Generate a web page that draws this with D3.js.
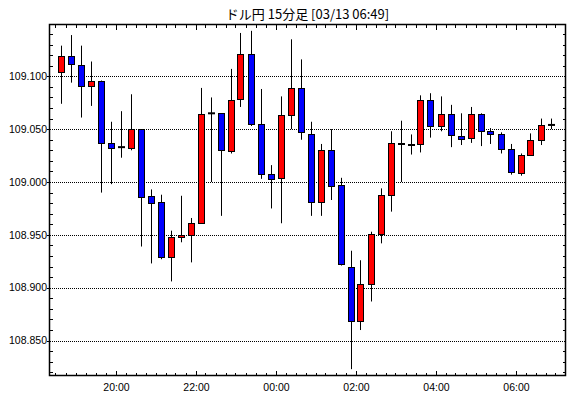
<!DOCTYPE html>
<html>
<head>
<meta charset="utf-8">
<script src="https://cdn.jsdelivr.net/npm/d3@7"></script>
<style>
  body { margin: 0; background: #fff; }
  svg text { font-family: "Liberation Sans", Arial, sans-serif; }
</style>
</head>
<body>
<div id="chart"></div>
<script>
// 15-minute candles, 03/12 18:30 -> 03/13 06:45
const times = [
  "03-12 18:30", "03-12 18:45", "03-12 19:00", "03-12 19:15", "03-12 19:30", "03-12 19:45",
  "03-12 20:00", "03-12 20:15", "03-12 20:30", "03-12 20:45", "03-12 21:00", "03-12 21:15",
  "03-12 21:30", "03-12 21:45", "03-12 22:00", "03-12 22:15", "03-12 22:30", "03-12 22:45",
  "03-12 23:00", "03-12 23:15", "03-12 23:30", "03-12 23:45", "03-13 00:00", "03-13 00:15",
  "03-13 00:30", "03-13 00:45", "03-13 01:00", "03-13 01:15", "03-13 01:30", "03-13 01:45",
  "03-13 02:00", "03-13 02:15", "03-13 02:30", "03-13 02:45", "03-13 03:00", "03-13 03:15",
  "03-13 03:30", "03-13 03:45", "03-13 04:00", "03-13 04:15", "03-13 04:30", "03-13 04:45",
  "03-13 05:00", "03-13 05:15", "03-13 05:30", "03-13 05:45", "03-13 06:00", "03-13 06:15",
  "03-13 06:30", "03-13 06:45"
];
const opens = [
  109.104, 109.119, 109.111, 109.091, 109.096, 109.037, 109.033, 109.032, 109.050, 108.987,
  108.981, 108.929, 108.948, 108.950, 108.961, 109.065, 109.065, 109.030, 109.078, 109.121,
  109.055, 109.008, 109.003, 109.063, 109.089, 109.045, 108.981, 109.030, 108.997, 108.920,
  108.869, 108.904, 108.951, 108.988, 109.037, 109.035, 109.036, 109.078, 109.053, 109.064,
  109.044, 109.041, 109.064, 109.048, 109.045, 109.031, 109.009, 109.026, 109.040, 109.054
];
const highs = [
  109.129, 109.139, 109.129, 109.114, 109.096, 109.057, 109.067, 109.083, 109.050, 108.993,
  108.988, 108.954, 108.987, 108.966, 109.089, 109.080, 109.065, 109.107, 109.141, 109.143,
  109.088, 109.016, 109.081, 109.135, 109.116, 109.057, 109.036, 109.050, 109.004, 108.935,
  108.926, 108.953, 108.994, 109.048, 109.058, 109.045, 109.082, 109.084, 109.081, 109.073,
  109.065, 109.071, 109.065, 109.051, 109.047, 109.036, 109.027, 109.046, 109.060, 109.060
];
const lows = [
  109.074, 109.094, 109.061, 109.072, 108.990, 108.998, 109.023, 109.030, 108.939, 108.923,
  108.927, 108.906, 108.943, 108.924, 108.961, 109.000, 108.968, 109.027, 109.071, 109.053,
  109.003, 108.975, 108.961, 109.050, 109.040, 108.968, 108.968, 108.983, 108.921, 108.823,
  108.860, 108.887, 108.942, 108.972, 109.000, 109.026, 109.028, 109.042, 109.048, 109.033,
  109.035, 109.037, 109.034, 109.036, 109.027, 109.007, 109.006, 109.025, 109.035, 109.050
];
const closes = [
  109.119, 109.111, 109.091, 109.096, 109.037, 109.032, 109.033, 109.050, 108.986, 108.980,
  108.929, 108.948, 108.950, 108.961, 109.064, 109.065, 109.030, 109.078, 109.121, 109.055,
  109.008, 109.003, 109.063, 109.089, 109.047, 108.981, 109.030, 108.996, 108.922, 108.869,
  108.904, 108.951, 108.988, 109.037, 109.036, 109.035, 109.078, 109.053, 109.064, 109.044,
  109.041, 109.064, 109.048, 109.045, 109.031, 109.009, 109.026, 109.040, 109.054, 109.054
];

const yTicks = [108.85, 108.90, 108.95, 109.00, 109.05, 109.10];
const xTickTimes = ["03-12 20:00", "03-12 22:00", "03-13 00:00", "03-13 02:00", "03-13 04:00", "03-13 06:00"];
const xTickLabels = ["20:00", "22:00", "00:00", "02:00", "04:00", "06:00"];
const title = "ドル円 15分足 [03/13 06:49]";

const parse = d3.timeParse("%Y-%m-%d %H:%M");
const t = (s) => parse("2024-" + s);

const width = 570, height = 398;
const plot = {left: 49.5, right: 565.5, top: 24.5, bottom: 375.5};

const data = times.map((s, i) => ({
    time: t(s), open: opens[i], high: highs[i], low: lows[i], close: closes[i]
}));

const x = d3.scaleTime()
    .domain([t("03-12 18:21"), t("03-13 07:15")])
    .range([plot.left, plot.right]);

const y = d3.scaleLinear()
    .domain([108.817, 109.149])
    .range([plot.bottom, plot.top]);

const svg = d3.select("#chart").append("svg")
    .attr("width", width)
    .attr("height", height);

// title
svg.append("text")
    .attr("x", (plot.left + plot.right) / 2)
    .attr("y", 19)
    .attr("text-anchor", "middle")
    .style("font-family", "'Noto Sans CJK JP', sans-serif")
    .style("font-size", "13px")
    .text(title);

// dotted grid lines (start on a whole pixel so the dots stay sharp)
svg.selectAll(".grid")
    .data(yTicks)
    .enter()
    .append("line")
    .attr("class", "grid")
    .attr("x1", 50)
    .attr("x2", 565)
    .attr("y1", (d) => Math.round(y(d)) + 0.5)
    .attr("y2", (d) => Math.round(y(d)) + 0.5)
    .attr("stroke", "#000")
    .attr("stroke-dasharray", "1,1")
    .attr("shape-rendering", "crispEdges");

// minor ticks every 0.01 on both sides
const minor = d3.range(108.82, 109.145, 0.01).filter((v) => !yTicks.some((g) => Math.abs(g - v) < 1e-6));
const tickG = svg.append("g").attr("stroke", "#000").attr("shape-rendering", "crispEdges");
minor.forEach((v) => {
    const yy = Math.round(y(v)) + 0.5;
    tickG.append("line").attr("x1", plot.left).attr("x2", plot.left + 3).attr("y1", yy).attr("y2", yy);
    tickG.append("line").attr("x1", plot.right - 3).attr("x2", plot.right).attr("y1", yy).attr("y2", yy);
});
yTicks.forEach((v) => {
    const yy = Math.round(y(v)) + 0.5;
    tickG.append("line").attr("x1", plot.left - 3).attr("x2", plot.left).attr("y1", yy).attr("y2", yy);
});

// x ticks every 15 minutes, longer every 2 hours
const xTicks = d3.timeMinute.every(15).range(t("03-12 18:30"), t("03-13 07:15"));
xTicks.forEach((d) => {
    const xx = Math.round(x(d)) + 0.5;
    const major = d.getMinutes() === 0 && d.getHours() % 2 === 0;
    const len = major ? 5 : 3;
    tickG.append("line").attr("x1", xx).attr("x2", xx).attr("y1", plot.bottom - len).attr("y2", plot.bottom);
    tickG.append("line").attr("x1", xx).attr("x2", xx).attr("y1", plot.top).attr("y2", plot.top + len);
});

// y labels
svg.selectAll(".ylab")
    .data(yTicks)
    .enter()
    .append("text")
    .attr("class", "ylab")
    .attr("x", 47)
    .attr("y", (d) => y(d))
    .attr("dy", "0.35em")
    .attr("text-anchor", "end")
    .style("font-size", "10.5px")
    .text(d3.format(".3f"));

// x labels
svg.selectAll(".xlab")
    .data(xTickTimes)
    .enter()
    .append("text")
    .attr("class", "xlab")
    .attr("x", (d) => Math.round(x(t(d))) + 0.5)
    .attr("y", 391)
    .attr("text-anchor", "middle")
    .style("font-size", "10.5px")
    .text((d, i) => xTickLabels[i]);

// candles
const half = 7.5 * 60 * 1000;
const cx = (d) => Math.round(x(new Date(+d.time + half))) + 0.5;

const candle = svg.append("g").selectAll("g")
    .data(data)
    .enter()
    .append("g");

candle.append("line")
    .attr("x1", cx)
    .attr("x2", cx)
    .attr("y1", (d) => y(d.high))
    .attr("y2", (d) => y(d.low))
    .attr("stroke", "#000")
    .attr("stroke-width", 1);

candle.filter((d) => d.open !== d.close)
    .append("rect")
    .attr("x", (d) => cx(d) - 3)
    .attr("width", 6)
    .attr("y", (d) => Math.round(y(Math.max(d.open, d.close))) + 0.5)
    .attr("height", (d) => Math.max(1, Math.round(Math.abs(y(d.open) - y(d.close)))))
    .attr("fill", (d) => d.close > d.open ? "#ff0000" : "#0000ff")
    .attr("stroke", "#000")
    .attr("stroke-width", 1);

candle.filter((d) => d.open === d.close)
    .append("line")
    .attr("x1", (d) => cx(d) - 3.5)
    .attr("x2", (d) => cx(d) + 3.5)
    .attr("y1", (d) => y(d.open))
    .attr("y2", (d) => y(d.open))
    .attr("stroke", "#000")
    .attr("stroke-width", 2);

// frame
svg.append("rect")
    .attr("x", plot.left)
    .attr("y", plot.top)
    .attr("width", plot.right - plot.left)
    .attr("height", plot.bottom - plot.top)
    .attr("fill", "none")
    .attr("stroke", "#000")
    .attr("stroke-width", 1.5);
</script>
</body>
</html>
